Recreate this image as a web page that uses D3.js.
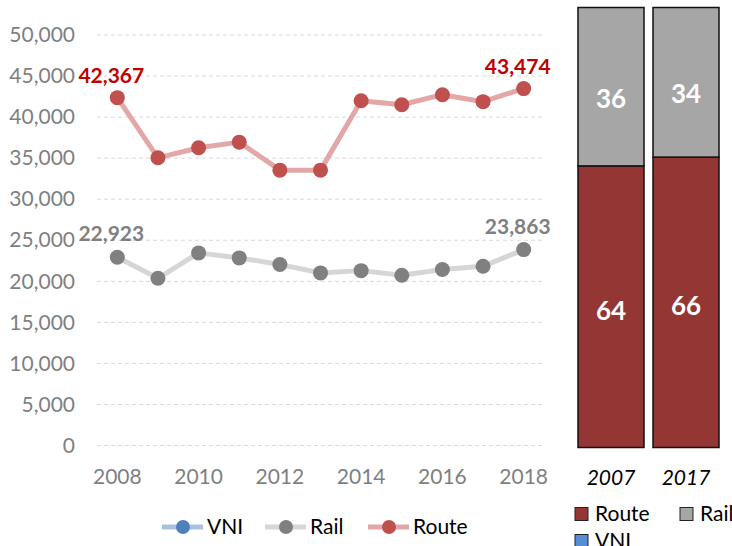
<!DOCTYPE html>
<html>
<head>
<meta charset="utf-8">
<script src="https://cdn.jsdelivr.net/npm/d3@7"></script>
<style>
  html, body { margin: 0; padding: 0; background: #fff; }
</style>
</head>
<body>
<div id="chart"></div>
<script>
// Line chart: yearly volumes
const years = [2008, 2009, 2010, 2011, 2012, 2013, 2014, 2015, 2016, 2017, 2018];
const routeValues = [42367, 35040, 36270, 36950, 33540, 33540, 42000, 41510, 42730, 41880, 43474];
const railValues = [22923, 20370, 23460, 22850, 22040, 21020, 21300, 20730, 21430, 21830, 23863];
const yTicks = [0, 5000, 10000, 15000, 20000, 25000, 30000, 35000, 40000, 45000, 50000];
const xTickYears = [2008, 2010, 2012, 2014, 2016, 2018];
const labelledIdx = [0, 10];

// Stacked share bars
const shareYears = ['2007', '2017'];
const shareRoute = [64, 66];
const shareRail = [36, 34];

const colors = {
  routeLine: '#E2A7A6', routeDot: '#C0504D', routeText: '#C00000',
  railLine: '#D6D6D6', railDot: '#808080', railText: '#7F7F7F',
  vniLine: '#A9C1E0', vniDot: '#4F81BD',
  routeBar: '#943634', railBar: '#A6A6A6', vniBar: '#558ED5'
};

const font = "Lato, 'Open Sans', sans-serif";
const W = 732, H = 546;

const svg = d3.select('#chart').append('svg')
  .attr('width', W).attr('height', H)
  .style('font-family', font);

// --- left chart ---
const x = d3.scaleBand().domain(years).range([97, 544]);
const cx = d => x(d) + x.bandwidth() / 2;
const y = d3.scaleLinear().domain([0, 50000]).range([445.5, 35]);

// grid
svg.append('g').selectAll('line')
  .data(yTicks)
  .join('line')
  .attr('x1', 97).attr('x2', 544)
  .attr('y1', d => y(d)).attr('y2', d => y(d))
  .attr('stroke', '#D9D9D9')
  .attr('stroke-width', 1)
  .attr('stroke-dasharray', '4,3');

// y axis labels
const yAxis = svg.append('g')
  .attr('transform', 'translate(75,0)')
  .call(d3.axisLeft(y).tickValues(yTicks).tickSize(0).tickPadding(0)
    .tickFormat(d3.format(',')));
yAxis.select('.domain').remove();
yAxis.selectAll('text')
  .attr('fill', '#7F7F7F')
  .attr('font-size', '21px')
  .attr('font-family', font);

// x axis labels
const xAxis = svg.append('g')
  .attr('transform', 'translate(0,462)')
  .call(d3.axisBottom(x).tickValues(xTickYears).tickSize(0).tickPadding(0));
xAxis.select('.domain').remove();
xAxis.selectAll('text')
  .attr('fill', '#7F7F7F')
  .attr('font-size', '21px')
  .attr('font-family', font)
  .attr('dy', '1.05em');

const series = [
  { key: 'rail', values: railValues, line: colors.railLine, dot: colors.railDot, text: colors.railText, dy: -16 },
  { key: 'route', values: routeValues, line: colors.routeLine, dot: colors.routeDot, text: colors.routeText, dy: -15 }
];

const lineGen = d3.line().x((d, i) => cx(years[i])).y(d => y(d));

series.forEach(s => {
  svg.append('path')
    .attr('d', lineGen(s.values))
    .attr('fill', 'none')
    .attr('stroke', s.line)
    .attr('stroke-width', 5)
    .attr('stroke-linejoin', 'round');

  svg.append('g').selectAll('circle')
    .data(s.values)
    .join('circle')
    .attr('cx', (d, i) => cx(years[i]))
    .attr('cy', d => y(d))
    .attr('r', 7.5)
    .attr('fill', s.dot);

  svg.append('g').selectAll('text')
    .data(labelledIdx)
    .join('text')
    .attr('x', i => cx(years[i]) - 6)
    .attr('y', i => y(s.values[i]) + s.dy)
    .attr('text-anchor', 'middle')
    .attr('font-size', '21px')
    .attr('font-weight', 'bold')
    .attr('fill', s.text)
    .text(i => d3.format(',')(s.values[i]));
});

// left legend
const legendItems = [
  { name: 'VNI', line: colors.vniLine, dot: colors.vniDot },
  { name: 'Rail', line: colors.railLine, dot: colors.railDot },
  { name: 'Route', line: colors.routeLine, dot: colors.routeDot }
];
const lg = svg.append('g').attr('transform', 'translate(162,527)');
legendItems.forEach((it, i) => {
  const g = lg.append('g').attr('transform', `translate(${i * 103},0)`);
  g.append('line').attr('x1', 0).attr('x2', 41).attr('y1', 0).attr('y2', 0)
    .attr('stroke', it.line).attr('stroke-width', 5);
  g.append('circle').attr('cx', 21).attr('cy', 0).attr('r', 7).attr('fill', it.dot);
  g.append('text').attr('x', 45).attr('y', 0).attr('dy', '0.35em')
    .attr('font-size', '21px').attr('fill', '#000').text(it.name);
});

// --- right stacked bars ---
const xb = d3.scaleBand().domain(shareYears).range([578, 719]).paddingInner(0.12).paddingOuter(0);
const yb = d3.scaleLinear().domain([0, 100]).range([447.5, 7.5]);

const stackData = shareYears.map((yr, i) => ({ year: yr, route: shareRoute[i], rail: shareRail[i] }));
const stacked = d3.stack().keys(['route', 'rail'])(stackData);
const barFill = { route: colors.routeBar, rail: colors.railBar };
const labelShift = { route: 4, rail: 12 };

stacked.forEach(layer => {
  const g = svg.append('g');
  g.selectAll('rect')
    .data(layer)
    .join('rect')
    .attr('x', d => xb(d.data.year))
    .attr('y', d => yb(d[1]))
    .attr('width', xb.bandwidth())
    .attr('height', d => yb(d[0]) - yb(d[1]))
    .attr('fill', barFill[layer.key])
    .attr('stroke', '#111')
    .attr('stroke-width', 1.5);
  g.selectAll('text')
    .data(layer)
    .join('text')
    .attr('x', d => xb(d.data.year) + xb.bandwidth() / 2)
    .attr('y', d => (yb(d[0]) + yb(d[1])) / 2 + labelShift[layer.key])
    .attr('dy', '0.35em')
    .attr('text-anchor', 'middle')
    .attr('font-size', '26px')
    .attr('font-weight', 'bold')
    .attr('fill', '#fff')
    .text(d => d.data[layer.key]);
});

svg.append('g').selectAll('text')
  .data(shareYears)
  .join('text')
  .attr('x', d => xb(d) + xb.bandwidth() / 2)
  .attr('y', 485)
  .attr('text-anchor', 'middle')
  .attr('font-size', '21px')
  .attr('font-style', 'italic')
  .attr('fill', '#000')
  .text(d => d);

// right legend
const rightLegend = [
  { name: 'Route', fill: colors.routeBar, x: 575, y: 514 },
  { name: 'Rail', fill: colors.railBar, x: 680, y: 514 },
  { name: 'VNI', fill: colors.vniBar, x: 575, y: 541 }
];
rightLegend.forEach(it => {
  svg.append('rect').attr('x', it.x).attr('y', it.y - 6.5).attr('width', 13).attr('height', 13)
    .attr('fill', it.fill).attr('stroke', '#222').attr('stroke-width', 1);
  svg.append('text').attr('x', it.x + 20).attr('y', it.y).attr('dy', '0.35em')
    .attr('font-size', '21px').attr('fill', '#000').text(it.name);
});
</script>
</body>
</html>
